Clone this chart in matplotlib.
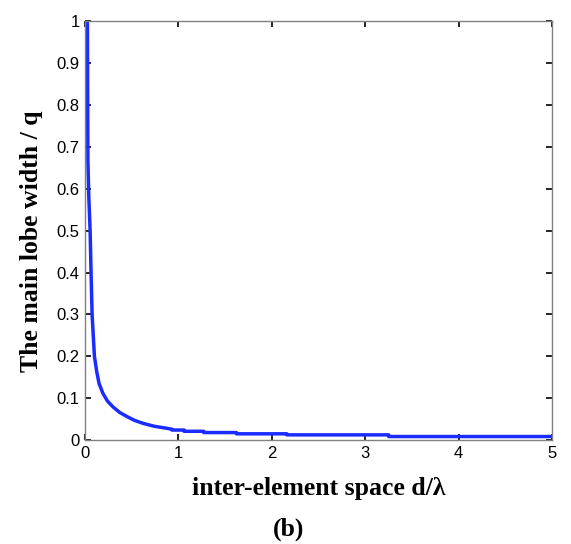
import matplotlib
matplotlib.use("Agg")
import matplotlib.pyplot as plt

# values
d_lambda = [0.025, 0.027, 0.03, 0.04, 0.054, 0.064, 0.075, 0.1, 0.125, 0.15, 0.19,
            0.24, 0.30, 0.37, 0.45, 0.53, 0.62, 0.74, 0.88, 0.93, 0.93, 1.06, 1.06,
            1.27, 1.27, 1.62, 1.62, 2.16, 2.16, 3.25, 3.25, 5.0]
lobe_width = [1.0, 0.85, 0.67, 0.58, 0.5, 0.4, 0.3, 0.2, 0.163, 0.135, 0.112,
              0.093, 0.079, 0.066, 0.056, 0.047, 0.040, 0.033, 0.028, 0.026, 0.024, 0.024, 0.021,
              0.021, 0.018, 0.018, 0.015, 0.015, 0.0125, 0.0125, 0.0085, 0.0085]

x_ticks = [0, 1, 2, 3, 4, 5]
y_ticks = [0, 0.1, 0.2, 0.3, 0.4, 0.5, 0.6, 0.7, 0.8, 0.9, 1]
y_tick_labels = ["0", "0.1", "0.2", "0.3", "0.4", "0.5", "0.6", "0.7", "0.8", "0.9", "1"]

fig = plt.figure(figsize=(5.71, 5.44), dpi=100)
ax = fig.add_axes([0.149, 0.191, 0.818, 0.770])

ax.plot(d_lambda, lobe_width, color="#1a2cff", linewidth=2.5)

ax.set_xlim(0, 5)
ax.set_ylim(0, 1)
ax.set_xticks(x_ticks)
ax.set_xticklabels([str(t) for t in x_ticks])
ax.set_yticks(y_ticks)
ax.set_yticklabels(y_tick_labels)

for spine in ax.spines.values():
    spine.set_color("#808080")
    spine.set_linewidth(1.0)

ax.tick_params(direction="in", length=4, width=1.2, color="black",
               top=True, right=True, labelsize=12, pad=4)
for lbl in ax.get_xticklabels() + ax.get_yticklabels():
    lbl.set_family("Liberation Sans")

ax.set_xlabel("inter-element space d/λ", fontsize=18.5, fontweight="bold",
              family="Liberation Serif", labelpad=12)
ax.set_ylabel("The main lobe width / q", fontsize=18.5, fontweight="bold",
              family="Liberation Serif")
ax.yaxis.set_label_coords(-0.09, 0.475)

fig.text(0.505, 0.027, "(b)", ha="center", va="center", fontsize=18.5,
         fontweight="bold", family="Liberation Serif")

fig.savefig("out.png", dpi=100)
